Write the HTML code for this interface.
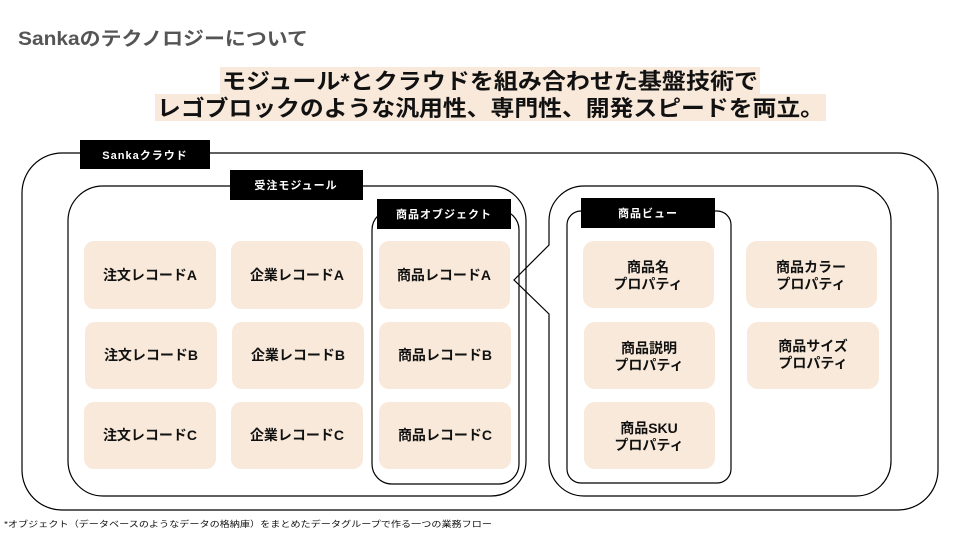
<!DOCTYPE html>
<html><head><meta charset="utf-8"><style>
html,body{margin:0;padding:0;background:#fff;}
svg{display:block;font-family:"Liberation Sans","Noto Sans CJK JP",sans-serif;}
.lb{fill:#000;}
.lt{fill:#fff;font-size:11px;font-weight:bold;text-anchor:middle;letter-spacing:1px;}
.cd{fill:#f8e9da;}
.ct{fill:#111;font-size:14px;font-weight:bold;text-anchor:middle;}
.ln{fill:none;stroke:#000;stroke-width:1.2;}
</style></head><body>
<svg width="960" height="540" viewBox="0 0 960 540" xmlns="http://www.w3.org/2000/svg">
<text x="18" y="45" font-size="19" fill="#555" font-weight="bold" textLength="290" lengthAdjust="spacingAndGlyphs">Sankaのテクノロジーについて</text>
<rect x="220" y="67" width="540" height="27" fill="#f8e9da"/>
<rect x="155" y="94" width="671" height="27" fill="#f8e9da"/>
<text x="222" y="89" font-size="22" font-weight="bold" fill="#111" textLength="536" lengthAdjust="spacingAndGlyphs">モジュール*とクラウドを組み合わせた基盤技術で</text>
<text x="157" y="116" font-size="22" font-weight="bold" fill="#111" textLength="667" lengthAdjust="spacingAndGlyphs">レゴブロックのような汎用性、専門性、開発スピードを両立。</text>

<rect class="ln" x="22" y="153" width="916" height="357" rx="40"/>
<rect class="lb" x="80" y="140" width="130" height="29"/>
<text class="lt" x="145" y="159">Sankaクラウド</text>

<rect class="ln" x="68" y="186" width="458" height="310" rx="35" fill="#fff"/>
<rect class="lb" x="230" y="170" width="133" height="30"/>
<text class="lt" x="296" y="189">受注モジュール</text>

<rect class="ln" x="372" y="210" width="147" height="274" rx="20"/>
<rect class="lb" x="377" y="199" width="134" height="30"/>
<text class="lt" x="444" y="218">商品オブジェクト</text>

<g>
<rect class="cd" x="84" y="241" width="132" height="68" rx="10"/><text class="ct" x="150" y="280">注文レコードA</text>
<rect class="cd" x="231" y="241" width="132" height="68" rx="10"/><text class="ct" x="297" y="280">企業レコードA</text>
<rect class="cd" x="379" y="241" width="131" height="68" rx="10"/><text class="ct" x="444" y="280">商品レコードA</text>
<rect class="cd" x="85" y="322" width="132" height="67" rx="10"/><text class="ct" x="151" y="360">注文レコードB</text>
<rect class="cd" x="232" y="322" width="132" height="67" rx="10"/><text class="ct" x="298" y="360">企業レコードB</text>
<rect class="cd" x="379" y="322" width="132" height="67" rx="10"/><text class="ct" x="445" y="360">商品レコードB</text>
<rect class="cd" x="84" y="402" width="132" height="67" rx="10"/><text class="ct" x="150" y="440">注文レコードC</text>
<rect class="cd" x="231" y="402" width="132" height="67" rx="10"/><text class="ct" x="297" y="440">企業レコードC</text>
<rect class="cd" x="379" y="402" width="132" height="67" rx="10"/><text class="ct" x="445" y="440">商品レコードC</text>
</g>

<path class="ln" fill="#fff" d="M584,186 H856 A35,35 0 0 1 891,221 V461 A35,35 0 0 1 856,496 H584 A35,35 0 0 1 549,461 V314 L514,280 L549,245 V221 A35,35 0 0 1 584,186 Z"/>
<rect class="ln" x="567" y="211" width="164" height="272" rx="14"/>
<rect class="lb" x="581" y="198" width="134" height="30"/>
<text class="lt" x="648" y="217">商品ビュー</text>

<rect class="cd" x="583" y="241" width="131" height="67" rx="11"/>
<text class="ct" x="648" y="272">商品名</text><text class="ct" x="648" y="289">プロパティ</text>
<rect class="cd" x="584" y="322" width="131" height="67" rx="11"/>
<text class="ct" x="649" y="353">商品説明</text><text class="ct" x="649" y="370">プロパティ</text>
<rect class="cd" x="584" y="402" width="131" height="67" rx="11"/>
<text class="ct" x="649" y="433">商品SKU</text><text class="ct" x="649" y="450">プロパティ</text>
<rect class="cd" x="746" y="241" width="131" height="67" rx="11"/>
<text class="ct" x="811" y="272">商品カラー</text><text class="ct" x="811" y="289">プロパティ</text>
<rect class="cd" x="747" y="322" width="132" height="67" rx="11"/>
<text class="ct" x="813" y="351">商品サイズ</text><text class="ct" x="813" y="368">プロパティ</text>

<text x="4" y="527" font-size="8.5" fill="#111" textLength="488" lengthAdjust="spacingAndGlyphs">*オブジェクト（データベースのようなデータの格納庫）をまとめたデータグループで作る一つの業務フロー</text>
</svg>
</body></html>
